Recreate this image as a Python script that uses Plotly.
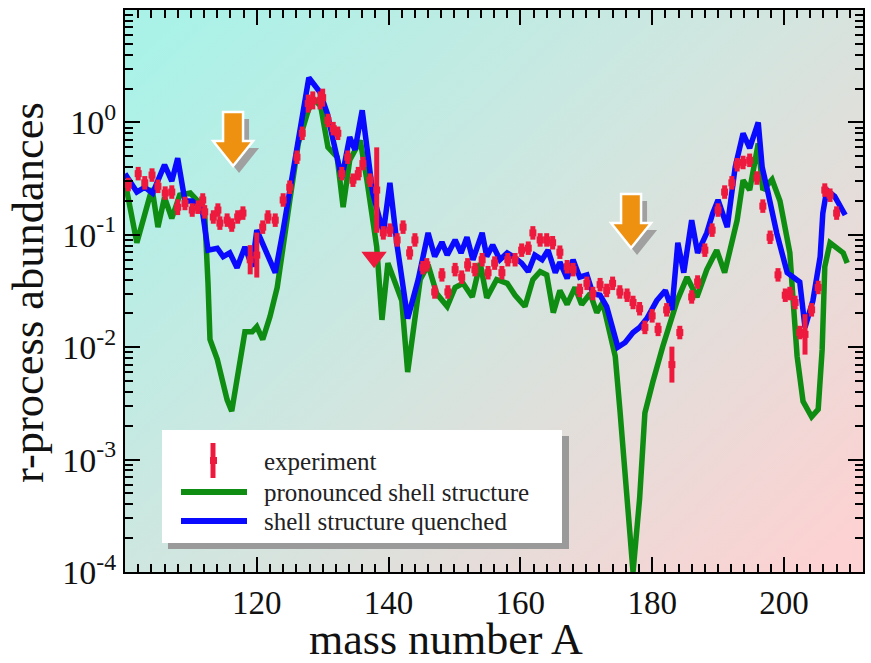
import base64
import plotly.graph_objects as go

# ---------------- data ----------------
# experiment (mass number A, abundance), error half-widths in dex
exp_A = [100.5, 102, 103, 104.1, 105, 106.1, 107.1, 108, 109.1, 110.2,
         111.1, 111.8, 112.1, 113.4, 114.1, 114.4, 115.5, 116.2, 117.1, 117.9,
         119, 120, 120.9, 121.7, 122.8, 124, 125, 126.1, 126.9, 127.8,
         128.5, 129.6, 130, 130.8, 131.6, 132.3, 132.9, 133.8, 134.6, 135.4,
         136.1, 137.2, 138.2, 139.2, 140.2, 141.3, 142.2, 143.2, 144, 145.2,
         145.8, 147, 148.1, 149, 150.1, 151.1, 152, 153.1, 154.2, 155.1,
         156.1, 157.2, 158.1, 159.2, 160.2, 161.2, 161.9, 163, 164, 164.9,
         166, 167.1, 168, 169, 170.1, 171, 172.1, 173.1, 174, 175.1,
         176.2, 177.1, 178.1, 178.9, 180, 180.9, 182.2, 183, 184.2, 186,
         186.9, 188, 189.1, 190, 191, 192.1, 192.9, 193.8, 194.8, 195.9,
         196.8, 197.9, 199.1, 200.2, 200.9, 201.7, 202.4, 203.2, 204.2, 205.2,
         206.2, 207, 208]
exp_val = [0.28, 0.35, 0.29, 0.34, 0.27, 0.235, 0.24, 0.176, 0.19, 0.166,
           0.176, 0.204, 0.16, 0.144, 0.166, 0.127, 0.135, 0.122, 0.144, 0.156,
           0.06, 0.066, 0.117, 0.144, 0.135, 0.204, 0.265, 0.49, 0.8, 1.47,
           1.57, 1.57, 1.66, 1.04, 0.88, 0.8, 0.35, 0.49, 0.306, 0.35,
           0.43, 0.306, 0.25, 0.104, 0.11, 0.09, 0.117, 0.069, 0.09, 0.051,
           0.054, 0.031, 0.044, 0.031, 0.049, 0.042, 0.054, 0.049, 0.06, 0.046,
           0.056, 0.046, 0.06, 0.06, 0.073, 0.076, 0.104, 0.09, 0.09, 0.085,
           0.07, 0.052, 0.049, 0.032, 0.037, 0.030, 0.036, 0.032, 0.037, 0.031,
           0.029, 0.025, 0.022, 0.015, 0.019, 0.0144, 0.0215, 0.007, 0.0135, 0.028,
           0.038, 0.073, 0.11, 0.166, 0.24, 0.29, 0.42, 0.44, 0.46, 0.32,
           0.18, 0.095, 0.044, 0.029, 0.030, 0.025, 0.0135, 0.013, 0.0215, 0.034,
           0.25, 0.225, 0.156]
exp_err_default = 0.06
exp_err_large = {108: 0.07, 119: 0.13, 120: 0.2, 127.8: 0.08, 128.5: 0.08,
                 129.6: 0.08, 130: 0.08, 138.2: 0.38, 183: 0.16, 203.2: 0.18}
# upper-limit style triangle
limit_A = [137.8]
limit_val = [0.063]

# "pronounced shell structure"
pron_A = [100, 101.8, 104.1, 105, 106, 107.1, 108.3, 109.9, 111.4, 112.1,
          112.6, 112.9, 114, 115.5, 116.2, 117.1, 118.2, 119.3, 120, 120.9,
          122, 123.1, 124, 125, 126.3, 127.8, 128.7, 129.7, 130.8, 132.2,
          133.1, 134.1, 135.7, 136.7, 138.2, 139, 139.9, 142, 142.9, 144.8,
          146, 147.3, 148.9, 150.1, 151.3, 152.7, 153.9, 154.9, 156.4, 158,
          159.2, 160.7, 161.9, 163, 164, 165, 166, 167.1, 168.3, 169.3,
          170.6, 171.6, 172.5, 173.6, 174.4, 175.1, 176.2, 177.1, 178.1, 178.9,
          180.1, 181.6, 183.8, 185.3, 186.8, 188.3, 189.8, 191, 192.9, 193.8,
          194.8, 196.1, 196.8, 198.2, 199.4, 200.9, 201.4, 202, 202.9, 204.2,
          205.2, 205.8, 206.2, 207, 209, 209.6]
pron_val = [0.3, 0.085, 0.26, 0.117, 0.215, 0.14, 0.225, 0.235, 0.19, 0.15,
            0.037, 0.0117, 0.0078, 0.0034, 0.0027, 0.0055, 0.0137, 0.0137, 0.0152, 0.0117,
            0.0187, 0.034, 0.073, 0.2, 0.65, 1.28, 1.6, 1.4, 0.6, 0.49,
            0.176, 0.46, 0.69, 0.31, 0.078, 0.0175, 0.056, 0.026, 0.006, 0.04,
            0.054, 0.030, 0.023, 0.034, 0.037, 0.028, 0.056, 0.0275, 0.04, 0.037,
            0.029, 0.023, 0.04, 0.047, 0.044, 0.0203, 0.032, 0.024, 0.034, 0.024,
            0.030, 0.0203, 0.025, 0.0135, 0.0083, 0.0028, 0.00045, 0.0001, 0.00045, 0.0026,
            0.0049, 0.0101, 0.026, 0.042, 0.028, 0.049, 0.073, 0.046, 0.135, 0.306,
            0.25, 0.65, 0.25, 0.31, 0.2, 0.069, 0.026, 0.0083, 0.0033, 0.0024,
            0.0028, 0.0095, 0.052, 0.085, 0.069, 0.056]

# "shell structure quenched"
quen_A = [100, 101.8, 103, 104.2, 106, 107.1, 108, 109.1, 110.2, 111.7,
          112.6, 114, 114.9, 115.9, 117, 118.2, 119.3, 120, 121.5, 122.8,
          124, 125.5, 127.9, 129.6, 130.7, 131.6, 132.9, 134.1, 134.9, 136,
          136.7, 137.6, 139.2, 140.2, 141.3, 142.2, 142.9, 144.5, 146, 147,
          148.1, 148.9, 150.1, 151, 151.9, 152.8, 154.2, 154.9, 155.8, 156.9,
          158, 158.9, 160.2, 161.2, 162.2, 163.3, 164.2, 165.3, 166, 167.1,
          168, 169, 170.1, 171, 172.1, 173.1, 174, 174.8, 175.9, 177.1,
          178.1, 179.2, 180.7, 182, 183, 183.9, 184.8, 186, 186.9, 188.3,
          189.2, 190, 191.4, 192.6, 193.8, 194.8, 196.1, 196.7, 197.6, 198.9,
          200.5, 201.4, 202.4, 203.2, 204.4, 205.5, 205.9, 206.5, 207.7, 209.3]
quen_val = [0.35, 0.24, 0.265, 0.235, 0.42, 0.30, 0.48, 0.20, 0.20, 0.17,
            0.073, 0.076, 0.064, 0.069, 0.051, 0.078, 0.052, 0.11, 0.069, 0.046,
            0.11, 0.35, 2.5, 1.85, 1.2, 0.69, 0.32, 0.74, 0.57, 1.28,
            0.57, 0.235, 0.104, 0.29, 0.08, 0.035, 0.018, 0.04, 0.104, 0.064,
            0.086, 0.066, 0.09, 0.069, 0.095, 0.06, 0.104, 0.064, 0.081, 0.06,
            0.069, 0.064, 0.056, 0.047, 0.066, 0.06, 0.073, 0.046, 0.057, 0.041,
            0.06, 0.042, 0.044, 0.030, 0.029, 0.023, 0.015, 0.0100, 0.011, 0.0135,
            0.015, 0.018, 0.026, 0.032, 0.0215, 0.085, 0.046, 0.135, 0.069, 0.104,
            0.156, 0.204, 0.117, 0.40, 0.8, 0.59, 1.0, 0.40, 0.235, 0.104,
            0.046, 0.042, 0.038, 0.015, 0.026, 0.064, 0.155, 0.25, 0.22, 0.15]

x_tick_vals = [120, 140, 160, 180, 200]
y_tick_vals = [1e-4, 1e-3, 1e-2, 1e-1, 1]
y_tick_text = ["10<sup>-4</sup>", "10<sup>-3</sup>", "10<sup>-2</sup>",
               "10<sup>-1</sup>", "10<sup>0</sup>"]
series_names = ["experiment", "pronounced shell structure", "shell structure quenched"]
arrow_A = [116.4, 176.8]

assert len(exp_A) == len(exp_val)
assert len(pron_A) == len(pron_val)
assert len(quen_A) == len(quen_val)

# ---------------- styling ----------------
W, H = 871, 663
ML, MR, MT, MB = 125, 8, 10, 91
PW, PH = W - ML - MR, H - MT - MB
X_RANGE = [100, 212]
Y_RANGE = [-4, 1]
RED, GREEN, BLUE = "#ee1a3e", "#0f8c12", "#0a0aff"
ORANGE = "#ee9010"
FONT = "Liberation Serif"


def px2p(px):   # pixel column -> paper x
    return (px - ML) / PW


def py2p(py):   # pixel row -> paper y
    return (MT + PH - py) / PH


exp_err = [exp_err_large.get(a, exp_err_default) for a in exp_A]
err_plus = [v * (10 ** e - 1) for v, e in zip(exp_val, exp_err)]
err_minus = [v * (1 - 10 ** (-e)) for v, e in zip(exp_val, exp_err)]

fig = go.Figure()
fig.add_trace(go.Scatter(x=pron_A, y=pron_val, mode="lines", name=series_names[1],
                         line=dict(color=GREEN, width=5.5), showlegend=False))
fig.add_trace(go.Scatter(x=quen_A, y=quen_val, mode="lines", name=series_names[2],
                         line=dict(color=BLUE, width=5.5), showlegend=False))
fig.add_trace(go.Scatter(x=exp_A, y=exp_val, mode="markers", name=series_names[0],
                         marker=dict(symbol="square", size=7, color=RED),
                         error_y=dict(type="data", symmetric=False, array=err_plus,
                                      arrayminus=err_minus, thickness=5, width=0, color=RED),
                         showlegend=False))
fig.add_trace(go.Scatter(x=limit_A, y=limit_val, mode="markers", name="limit",
                         marker=dict(symbol="triangle-down", size=22, color=RED),
                         showlegend=False))

# background gradient
svg = ('<svg xmlns="http://www.w3.org/2000/svg" width="738" height="562" '
       'preserveAspectRatio="none"><defs><linearGradient id="g" x1="0" y1="0.1" '
       'x2="1" y2="0.9"><stop offset="0" stop-color="#aaf2e8"/>'
       '<stop offset="0.5" stop-color="#d3e5df"/><stop offset="1" stop-color="#fcd2d2"/>'
       '</linearGradient></defs><rect width="738" height="562" fill="url(#g)"/></svg>')
src = "data:image/svg+xml;base64," + base64.b64encode(svg.encode()).decode()

shapes = []
# arrows
arrow_tops = [112, 194]
poly = [(-10, 0), (10, 0), (10, 29), (20, 29), (0, 54), (-20, 29), (-10, 29)]
for a, top in zip(arrow_A, arrow_tops):
    for (ox, oy, fill, lw) in [(6, 7, "#a0a0a0", 0), (0, 0, ORANGE, 2.5)]:
        pts = [(a + (dx + ox) * (X_RANGE[1] - X_RANGE[0]) / PW, py2p(top + dy + oy))
               for dx, dy in poly]
        path = "M " + " L ".join(f"{x:.4f},{y:.4f}" for x, y in pts) + " Z"
        shapes.append(dict(type="path", xref="x", yref="paper", path=path,
                           fillcolor=fill,
                           line=dict(color="white", width=lw) if lw else dict(width=0),
                           layer="above"))

# legend box
shapes.append(dict(type="rect", xref="paper", yref="paper", x0=px2p(168), x1=px2p(569),
                   y0=py2p(549), y1=py2p(436), fillcolor="#9a9a9a", line=dict(width=0),
                   layer="above"))
shapes.append(dict(type="rect", xref="paper", yref="paper", x0=px2p(162), x1=px2p(562),
                   y0=py2p(543), y1=py2p(430), fillcolor="white", line=dict(width=0),
                   layer="above"))
shapes.append(dict(type="line", xref="paper", yref="paper", x0=px2p(213), x1=px2p(213),
                   y0=py2p(478), y1=py2p(443), line=dict(color=RED, width=5), layer="above"))
shapes.append(dict(type="rect", xref="paper", yref="paper", x0=px2p(210), x1=px2p(217),
                   y0=py2p(464), y1=py2p(457), fillcolor=RED, line=dict(width=0),
                   layer="above"))
shapes.append(dict(type="line", xref="paper", yref="paper", x0=px2p(181), x1=px2p(247),
                   y0=py2p(492), y1=py2p(492), line=dict(color=GREEN, width=6), layer="above"))
shapes.append(dict(type="line", xref="paper", yref="paper", x0=px2p(181), x1=px2p(247),
                   y0=py2p(521), y1=py2p(521), line=dict(color=BLUE, width=6), layer="above"))

annotations = []
for name, yc in zip(series_names, [461, 492, 521]):
    annotations.append(dict(x=px2p(262), y=py2p(yc), xref="paper", yref="paper", text=name,
                            showarrow=False, xanchor="left", yanchor="middle",
                            font=dict(family=FONT, size=25, color="#222")))
annotations.append(dict(x=px2p(446), y=py2p(639), xref="paper", yref="paper",
                        text="mass number A", showarrow=False, xanchor="center",
                        yanchor="middle",
                        font=dict(family=FONT, size=44, color="#111")))
annotations.append(dict(x=px2p(28), y=py2p(293), xref="paper", yref="paper",
                        text="r-process abundances", showarrow=False, textangle=-90,
                        xanchor="center", yanchor="middle",
                        font=dict(family=FONT, size=44.5, color="#111")))

minor_y = [k * 10 ** e for e in range(-4, 1) for k in range(2, 10)]

fig.update_layout(
    width=W, height=H, autosize=False,
    margin=dict(l=ML, r=MR, t=MT, b=MB, pad=0, autoexpand=False),
    paper_bgcolor="white", plot_bgcolor="rgba(0,0,0,0)",
    images=[dict(source=src, xref="paper", yref="paper", x=0, y=1, sizex=1, sizey=1,
                 sizing="stretch", layer="below", xanchor="left", yanchor="top")],
    shapes=shapes, annotations=annotations, showlegend=False,
    font=dict(family=FONT, color="#111"),
)
fig.update_xaxes(range=X_RANGE, tickmode="array", tickvals=x_tick_vals, automargin=False,
                 ticks="inside", ticklen=15, tickwidth=2, tickcolor="black",
                 showline=True, linecolor="black", linewidth=2, mirror="ticks",
                 showgrid=False, zeroline=False,
                 tickfont=dict(family=FONT, size=33, color="#111"),
                 minor=dict(tickmode="linear", tick0=100, dtick=2, ticks="inside",
                            ticklen=8, tickwidth=1.5, tickcolor="black", showgrid=False))
fig.update_yaxes(type="log", range=Y_RANGE, tickmode="array", tickvals=y_tick_vals,
                 ticktext=y_tick_text, automargin=False,
                 ticks="inside", ticklen=15, tickwidth=2, tickcolor="black",
                 showline=True, linecolor="black", linewidth=2, mirror="ticks",
                 showgrid=False, zeroline=False,
                 tickfont=dict(family=FONT, size=34, color="#111"),
                 minor=dict(tickmode="array", tickvals=minor_y, ticks="inside",
                            ticklen=8, tickwidth=1.5, tickcolor="black", showgrid=False))

fig.write_html("out.html", config={"displayModeBar": False},
               post_script="document.body.style.margin='0';document.body.style.padding='0';")
